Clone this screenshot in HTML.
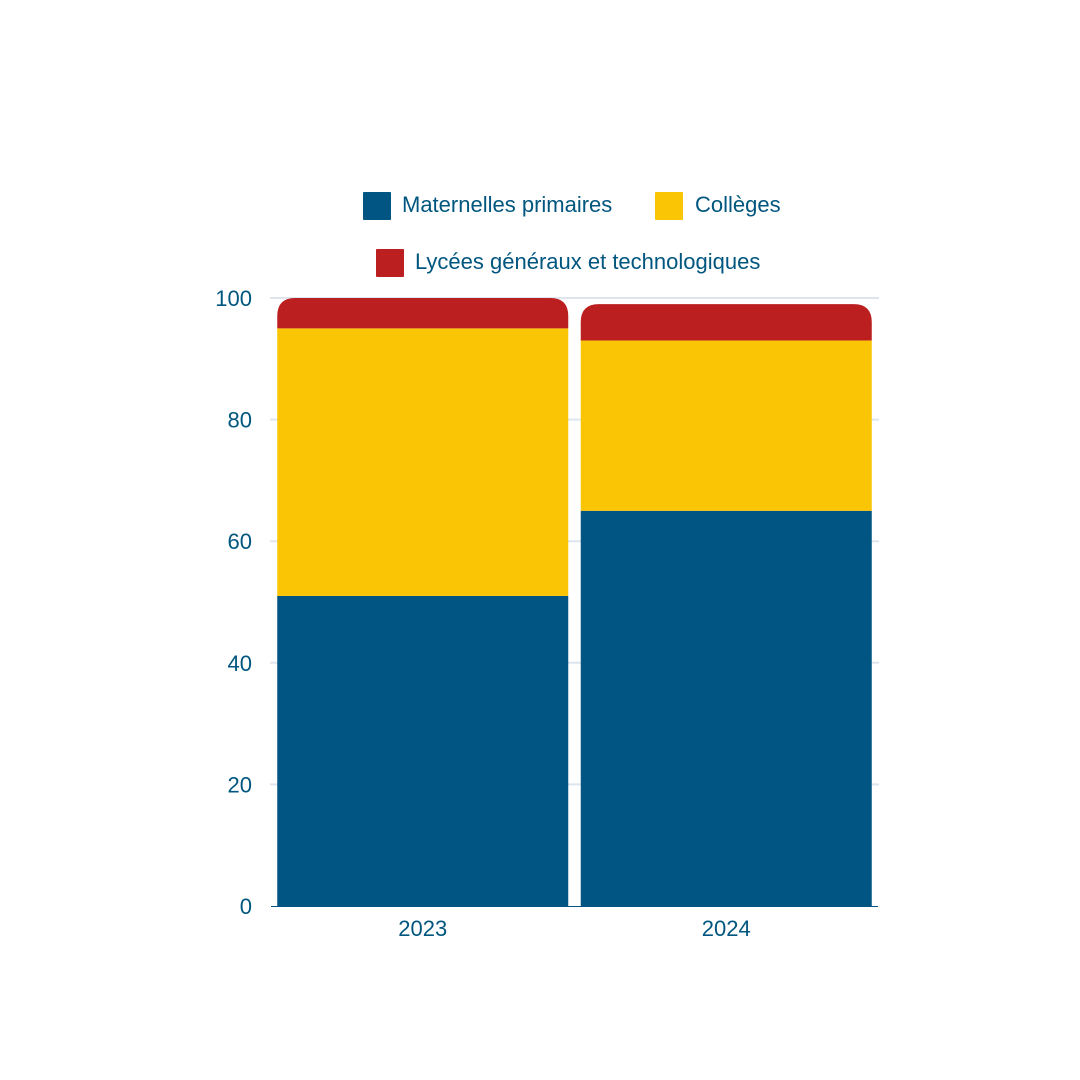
<!DOCTYPE html>
<html><head><meta charset="utf-8"><style>
body{margin:0;background:#fff;font-family:"Liberation Sans",sans-serif}
svg{display:block}
text{fill:#00567f;font-family:"Liberation Sans",sans-serif}
</style></head><body>
<svg id="c" width="1080" height="1080" viewBox="0 0 1080 1080">
<g>
<g><rect x="363" y="192" width="28" height="28" fill="#005582" rx="1"/><text x="402" y="212" font-size="22">Maternelles primaires</text></g>
<g><rect x="655" y="192" width="28" height="28" fill="#fac504" rx="1"/><text x="695" y="212" font-size="22">Collèges</text></g>
<g><rect x="376" y="249" width="28" height="28" fill="#bb1f20" rx="1"/><text x="415" y="269" font-size="22">Lycées généraux et technologiques</text></g>
</g>
<g id="grid"></g>
<g id="yax"></g>
<g id="bars"></g>
<g id="xax"></g>
</svg>
<script>
const categories=["2023","2024"];
const maternelles=[51,65];
const colleges=[44,28];
const lycees=[5,6];
const yTicks=[0,20,40,60,80,100];
const colors=["#005582","#fac504","#bb1f20"];
const seriesNames=["maternelles","colleges","lycees"];
const X0=271,X1=878,Y0=906,Y1=298,YMAX=100;
const y=v=>Y0-(v/YMAX)*(Y0-Y1);
const band=(X1-X0)/categories.length;
const bw=291;
const xc=i=>X0+band*i+band/2;
const NS="http://www.w3.org/2000/svg";
function mk(t,a,p){const e=document.createElementNS(NS,t);for(const k in a)e.setAttribute(k,a[k]);p.appendChild(e);return e;}
const grid=document.getElementById('grid'),yax=document.getElementById('yax'),bars=document.getElementById('bars'),xax=document.getElementById('xax');
yTicks.forEach(t=>{
 if(t>0){const l=mk('line',{x1:X0-1,x2:X1+1,y1:y(t),y2:y(t),stroke:'#dde5ee','stroke-width':2},grid);
 
 }
 const tx=mk('text',{x:252,y:y(t)+8,'font-size':22,'text-anchor':'end'},yax);tx.textContent=t;
 
 
});
const series=[maternelles,colleges,lycees];
const r=18;
categories.forEach((c,i)=>{
 let base=0;const x=xc(i)-bw/2;
 series.forEach((s,k)=>{
  const v=s[i];const yt=y(base+v),yb=y(base);
  let el;
  if(k===series.length-1){
   const rr=Math.min(r,(yb-yt));
   el=mk('path',{d:`M${x},${yb}V${yt+rr}Q${x},${yt} ${x+rr},${yt}H${x+bw-rr}Q${x+bw},${yt} ${x+bw},${yt+rr}V${yb}Z`,fill:colors[k]},bars);
  } else el=mk('rect',{x:x,y:yt,width:bw,height:yb-yt,fill:colors[k]},bars);
  
  
  base+=v;
 });
 const t=mk('text',{x:xc(i),y:936,'font-size':22,'text-anchor':'middle'},xax);t.textContent=c;
 
 
});
const bl=mk('line',{x1:X0,x2:X1,y1:Y0+0.5,y2:Y0+0.5,stroke:'#00567f','stroke-width':1},xax);


</script>
</body></html>
